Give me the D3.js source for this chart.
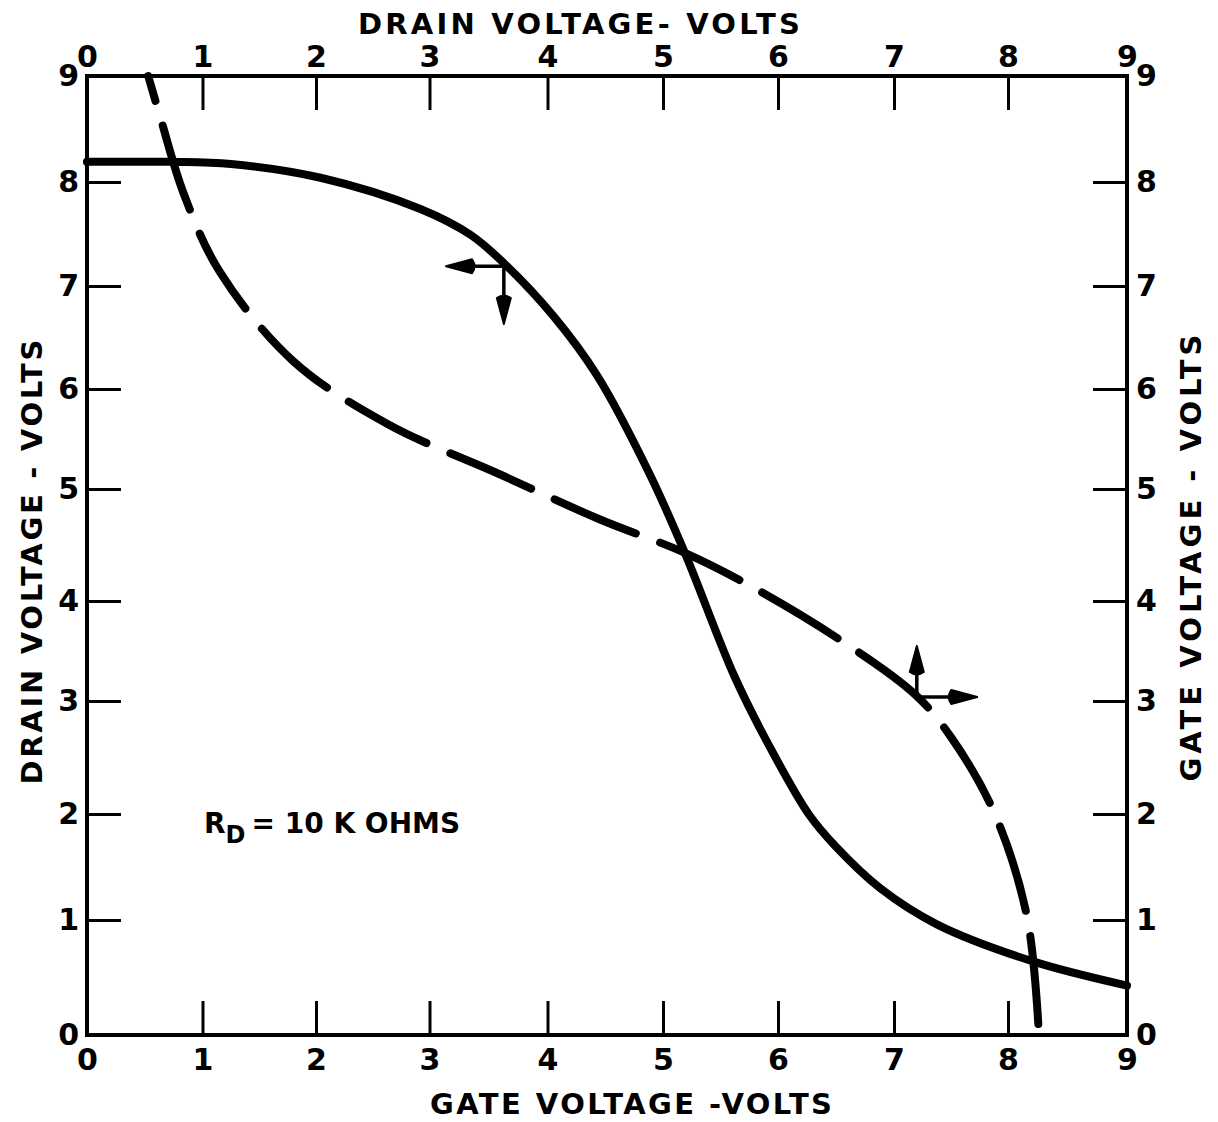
<!DOCTYPE html>
<html>
<head>
<meta charset="utf-8">
<script src="https://cdn.jsdelivr.net/npm/d3@7"></script>
<style>
  body { margin: 0; background: #fff; }
  svg { display: block; }
</style>
</head>
<body>
<div id="chart"></div>
<script>
// axis ticks (same 0..9 scale on all four sides)
const gateTicks = [0, 1, 2, 3, 4, 5, 6, 7, 8, 9];
const drainTicks = [0, 1, 2, 3, 4, 5, 6, 7, 8, 9];

// solid curve: drain voltage (left) vs gate voltage (bottom)
const solidGate  = [0, 0.72, 1.25, 2.04, 2.92, 3.35, 3.63, 4.05, 4.43, 4.88, 5.19, 5.62, 5.92, 6.27, 6.5, 6.88, 7.38, 8.21, 9.0];
const solidDrain = [8.19, 8.19, 8.17, 8.04, 7.74, 7.49, 7.22, 6.71, 6.13, 5.16, 4.43, 3.25, 2.61, 1.99, 1.69, 1.3, 0.96, 0.64, 0.43];

// dashed curve: gate voltage (right) vs drain voltage (top)
const dashDrain = [0.53, 0.64, 0.84, 1.15, 1.8, 2.63, 3.59, 4.45, 5.19, 5.75, 6.51, 7.19, 7.5, 7.88, 8.16, 8.26];
const dashGate  = [9.0, 8.59, 7.88, 7.14, 6.27, 5.65, 5.15, 4.73, 4.43, 4.14, 3.63, 3.06, 2.68, 2.01, 1.03, 0];

// direction arrows: corner point and the two arrow tips (in axis units)
const arrowCorners = [[3.63, 7.19], [7.20, 3.04]];
const arrowTips = [
  [[3.14, 7.19], [3.63, 6.63]],
  [[7.20, 3.55], [7.73, 3.04]]
];

const W = 1218, H = 1122;
// the hand-ruled grid is not perfectly even, so tick positions are given per unit
const xTickPx = [87, 202.5, 316, 429.5, 547.5, 663, 778, 894, 1008, 1127];
const yTickPx = [1035, 920, 814, 701, 601, 489, 389, 286, 182, 76];
const plotL = xTickPx[0], plotR = xTickPx[9], plotT = yTickPx[9], plotB = yTickPx[0];
const font = "'DejaVu Sans', Verdana, sans-serif";

const svg = d3.select('#chart').append('svg')
  .attr('width', W)
  .attr('height', H);

svg.append('rect').attr('width', W).attr('height', H).attr('fill', '#fff');

const x = d3.scaleLinear().domain(gateTicks).range(xTickPx);
const y = d3.scaleLinear().domain(drainTicks).range(yTickPx);

function styleAxis(g) {
  g.select('.domain').remove();
  g.selectAll('.tick line').attr('stroke', '#000').attr('stroke-width', 3);
  g.selectAll('.tick text')
    .attr('fill', '#000')
    .style('font-family', font)
    .style('font-weight', 'bold')
    .style('font-size', '30px');
}

svg.append('g')
  .attr('transform', `translate(0,${plotB})`)
  .call(d3.axisBottom(x).tickValues(gateTicks).tickFormat(d3.format('d'))
    .tickSizeInner(-34).tickSizeOuter(0).tickPadding(14))
  .call(styleAxis);

svg.append('g')
  .attr('transform', `translate(0,${plotT})`)
  .call(d3.axisTop(x).tickValues(drainTicks).tickFormat(d3.format('d'))
    .tickSizeInner(-34).tickSizeOuter(0).tickPadding(9))
  .call(styleAxis);

svg.append('g')
  .attr('transform', `translate(${plotL},0)`)
  .call(d3.axisLeft(y).tickValues(drainTicks).tickFormat(d3.format('d'))
    .tickSizeInner(-34).tickSizeOuter(0).tickPadding(8))
  .call(styleAxis);

svg.append('g')
  .attr('transform', `translate(${plotR},0)`)
  .call(d3.axisRight(y).tickValues(gateTicks).tickFormat(d3.format('d'))
    .tickSizeInner(-34).tickSizeOuter(0).tickPadding(9))
  .call(styleAxis);

// frame
svg.append('rect')
  .attr('x', plotL).attr('y', plotT)
  .attr('width', plotR - plotL).attr('height', plotB - plotT)
  .attr('fill', 'none')
  .attr('stroke', '#000')
  .attr('stroke-width', 4);

// curves
const line = d3.line().curve(d3.curveCatmullRom.alpha(0.5));

svg.append('path')
  .attr('d', line(solidGate.map((g, i) => [x(g), y(solidDrain[i])])))
  .attr('fill', 'none')
  .attr('stroke', '#000')
  .attr('stroke-width', 8)
  .attr('stroke-linecap', 'round');

svg.append('path')
  .attr('d', line(dashDrain.map((d, i) => [x(d), y(dashGate[i])])))
  .attr('fill', 'none')
  .attr('stroke', '#000')
  .attr('stroke-width', 8)
  .attr('stroke-linecap', 'round')
  .attr('stroke-dasharray', '88,26')
  .attr('stroke-dashoffset', 62);

// arrows
function arrow(from, to) {
  const x0 = x(from[0]), y0 = y(from[1]);
  const x1 = x(to[0]), y1 = y(to[1]);
  const len = Math.hypot(x1 - x0, y1 - y0);
  const ux = (x1 - x0) / len, uy = (y1 - y0) / len;
  const hl = 26, hw = 7;
  const bx = x1 - ux * hl, by = y1 - uy * hl;
  svg.append('line')
    .attr('x1', x0).attr('y1', y0).attr('x2', bx).attr('y2', by)
    .attr('stroke', '#000').attr('stroke-width', 3.5);
  svg.append('path')
    .attr('d', `M${x1},${y1} L${bx - uy * hw},${by + ux * hw} Q${bx - ux * 5},${by - uy * 5} ${bx + uy * hw},${by - ux * hw} Z`)
    .attr('fill', '#000')
    .attr('stroke', '#000')
    .attr('stroke-width', 2)
    .attr('stroke-linejoin', 'round');
}
arrowCorners.forEach((c, i) => {
  arrow(c, arrowTips[i][0]);
  arrow(c, arrowTips[i][1]);
});

// axis titles
function title(text, tx, ty, len, rot) {
  svg.append('text')
    .attr('transform', `translate(${tx},${ty}) rotate(${rot})`)
    .attr('text-anchor', 'middle')
    .attr('textLength', len)
    .attr('lengthAdjust', 'spacing')
    .style('font-family', font)
    .style('font-weight', 'bold')
    .style('font-size', '29px')
    .text(text);
}
title('DRAIN VOLTAGE- VOLTS', 579, 34, 442, 0);
title('GATE VOLTAGE -VOLTS', 631, 1114, 402, 0);
title('DRAIN VOLTAGE - VOLTS', 42, 562, 445, -90);
title('GATE VOLTAGE - VOLTS', 1201, 558, 447, -90);

// annotation
const note = svg.append('text')
  .attr('x', 204).attr('y', 833)
  .style('font-family', font)
  .style('font-weight', 'bold')
  .style('font-size', '28px');
note.append('tspan').text('R');
note.append('tspan').attr('dy', 10).style('font-size', '24px').text('D');
note.append('tspan').attr('dy', -10).attr('dx', 6).text('= 10 K OHMS');
</script>
</body>
</html>
